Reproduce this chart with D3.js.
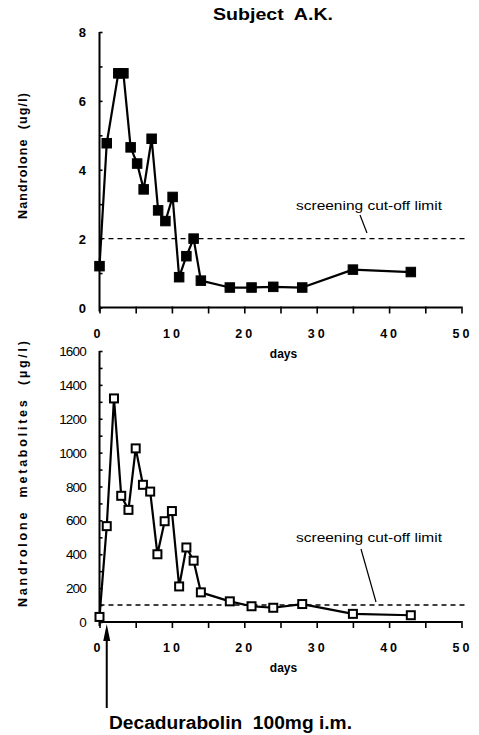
<!DOCTYPE html>
<html><head><meta charset="utf-8">
<script src="https://cdn.jsdelivr.net/npm/d3@7"></script>
<style>body{margin:0;background:#fff}svg{display:block}text{font-family:"Liberation Sans",Arial,sans-serif;fill:#000;white-space:pre}</style>
</head><body><svg id="c" width="479" height="735"></svg>
<script>
// ---- data ----
const title = "Subject  A.K.";
const topDays = [0, 1, 2.6, 3.3, 4.3, 5.2, 6.1, 7.2, 8.1, 9.1, 10.1, 11, 12, 13, 14, 18, 21, 24, 28, 35, 43];
const topValues = [1.2, 4.77, 6.8, 6.8, 4.65, 4.18, 3.43, 4.9, 2.82, 2.51, 3.21, 0.88, 1.49, 2.0, 0.78, 0.58, 0.58, 0.6, 0.58, 1.1, 1.03];
const botDays = [0, 1, 2, 3, 4, 5, 6, 7, 8, 9, 10, 11, 12, 13, 14, 18, 21, 24, 28, 35, 43];
const botValues = [30, 566, 1320, 745, 662, 1025, 810, 770, 400, 595, 655, 210, 440, 362, 175, 122, 93, 84, 106, 48, 40];
const topCutoff = 2;
const botCutoff = 100;
const injectionDay = 1;
const xTicks = [0, 10, 20, 30, 40, 50];
const topYTicks = [0, 2, 4, 6, 8];
const botYTicks = [0, 200, 400, 600, 800, 1000, 1200, 1400, 1600];
const topYLabel = "Nandrolone  (ug/l)";
const botYLabel = "Nandrolone  metabolites  (\u00b5g/l)";
const xLabel = "days";
const cutoffLabel = "screening cut-off limit";
const doseLabel = "Decadurabolin  100mg i.m.";

const svg = d3.select("#c");
const x = d3.scaleLinear().domain([0, 50]).range([99.5, 461.5]);
const yT = d3.scaleLinear().domain([0, 8]).range([307.5, 32]);
const yB = d3.scaleLinear().domain([0, 1600]).range([622, 351]);

svg.append("text").attr("x", 273).attr("y", 20).attr("text-anchor", "middle")
  .attr("font-size", 16.5).attr("font-weight", "bold").attr("textLength", 120).attr("lengthAdjust", "spacingAndGlyphs").text(title);

function panel(y, yTicks, yMinor, values, days, cutoff, ylabel, filled, ytfs, ytbold, ylabelY, ylabelLen, cut) {
  const g = svg.append("g");
  const y0 = y.range()[0];
  // x axis
  const xa = g.append("g").attr("transform", `translate(0,${y0})`)
    .call(d3.axisBottom(x).tickValues(d3.range(0, 51, 5)).tickSize(6).tickFormat(""));
  xa.select(".domain").attr("d", `M${x(0)},0H${x(50)}`).attr("stroke-width", 2);
  xa.selectAll(".tick line").attr("stroke-width", 1.6).attr("y1", -1);
  g.selectAll(".xtl").data(xTicks).join("text")
    .attr("x", d => x(d) + (d ? 1 : -1)).attr("y", y0 + 30).attr("text-anchor", "middle")
    .attr("font-size", 12.5).attr("font-weight", "bold").attr("letter-spacing", 3).text(d => d);
  g.append("text").attr("x", x(25) + 3).attr("y", y0 + 50).attr("text-anchor", "middle")
    .attr("font-size", 12).attr("font-weight", "bold").text(xLabel);
  // y axis
  const ya = g.append("g").attr("transform", `translate(${x(0)},0)`)
    .call(d3.axisLeft(y).tickValues(yMinor).tickSize(6).tickFormat(""));
  ya.select(".domain").attr("d", `M0,${y.range()[1]}V${y0 + 4}`).attr("stroke-width", 2);
  ya.selectAll(".tick line").attr("x2", 3).attr("stroke-width", 1.6);
  g.selectAll(".ytl").data(yTicks).join("text")
    .attr("x", 86).attr("y", d => y(d) + 5).attr("text-anchor", "end")
    .attr("font-size", ytfs).attr("font-weight", ytbold ? "bold" : "normal").attr("letter-spacing", ytbold ? 0 : -0.8).text(d => d);
  g.append("text").attr("transform", `translate(27,${ylabelY}) rotate(-90)`)
    .attr("text-anchor", "middle").attr("font-size", 12.5).attr("font-weight", "bold")
    .attr("textLength", ylabelLen).attr("lengthAdjust", "spacing").text(ylabel);
  // cutoff
  g.append("line").attr("x1", x(0)).attr("x2", x(50.6)).attr("y1", y(cutoff)).attr("y2", y(cutoff))
    .attr("stroke", "#000").attr("stroke-width", 1.4).attr("stroke-dasharray", "5,4");
  g.append("text").attr("x", cut[0]).attr("y", cut[1]).attr("text-anchor", "middle")
    .attr("font-size", 12.5).attr("textLength", 146).attr("lengthAdjust", "spacingAndGlyphs").text(cutoffLabel);
  g.append("line").attr("x1", cut[2]).attr("y1", cut[3]).attr("x2", cut[4]).attr("y2", cut[5])
    .attr("stroke", "#000").attr("stroke-width", 1.2);
  // line + markers
  const pts = days.map((d, i) => [d, values[i]]);
  g.append("path").datum(pts).attr("fill", "none").attr("stroke", "#000").attr("stroke-width", 2.2)
    .attr("stroke-linejoin", "round").attr("d", d3.line().x(d => x(d[0])).y(d => y(d[1])));
  const s = filled ? 9.5 : 8;
  g.selectAll(".m").data(pts).join("rect")
    .attr("x", d => x(d[0]) - s / 2).attr("y", d => y(d[1]) - s / 2).attr("width", s).attr("height", s)
    .attr("fill", filled ? "#000" : "#fff").attr("stroke", "#000").attr("stroke-width", filled ? 1 : 2);
}

panel(yT, topYTicks, d3.range(0, 9, 1), topValues, topDays, topCutoff, topYLabel, true, 13, true, 156, 126,
  [369, 210, 360, 215, 367, 233]);
panel(yB, botYTicks, d3.range(0, 1601, 100), botValues, botDays, botCutoff, botYLabel, false, 13.5, false, 474, 266,
  [369, 542, 361, 549, 376, 602]);

// dose arrow
const ax = x(injectionDay);
svg.append("line").attr("x1", ax).attr("x2", ax).attr("y1", 708).attr("y2", 636).attr("stroke", "#000").attr("stroke-width", 2);
svg.append("path").attr("d", `M${ax},624L${ax - 3.5},641L${ax + 3.5},641Z`).attr("fill", "#000");
svg.append("text").attr("x", 109).attr("y", 729).attr("font-size", 17.5).attr("font-weight", "bold")
  .attr("textLength", 243).attr("lengthAdjust", "spacingAndGlyphs").text(doseLabel);
</script></body></html>
